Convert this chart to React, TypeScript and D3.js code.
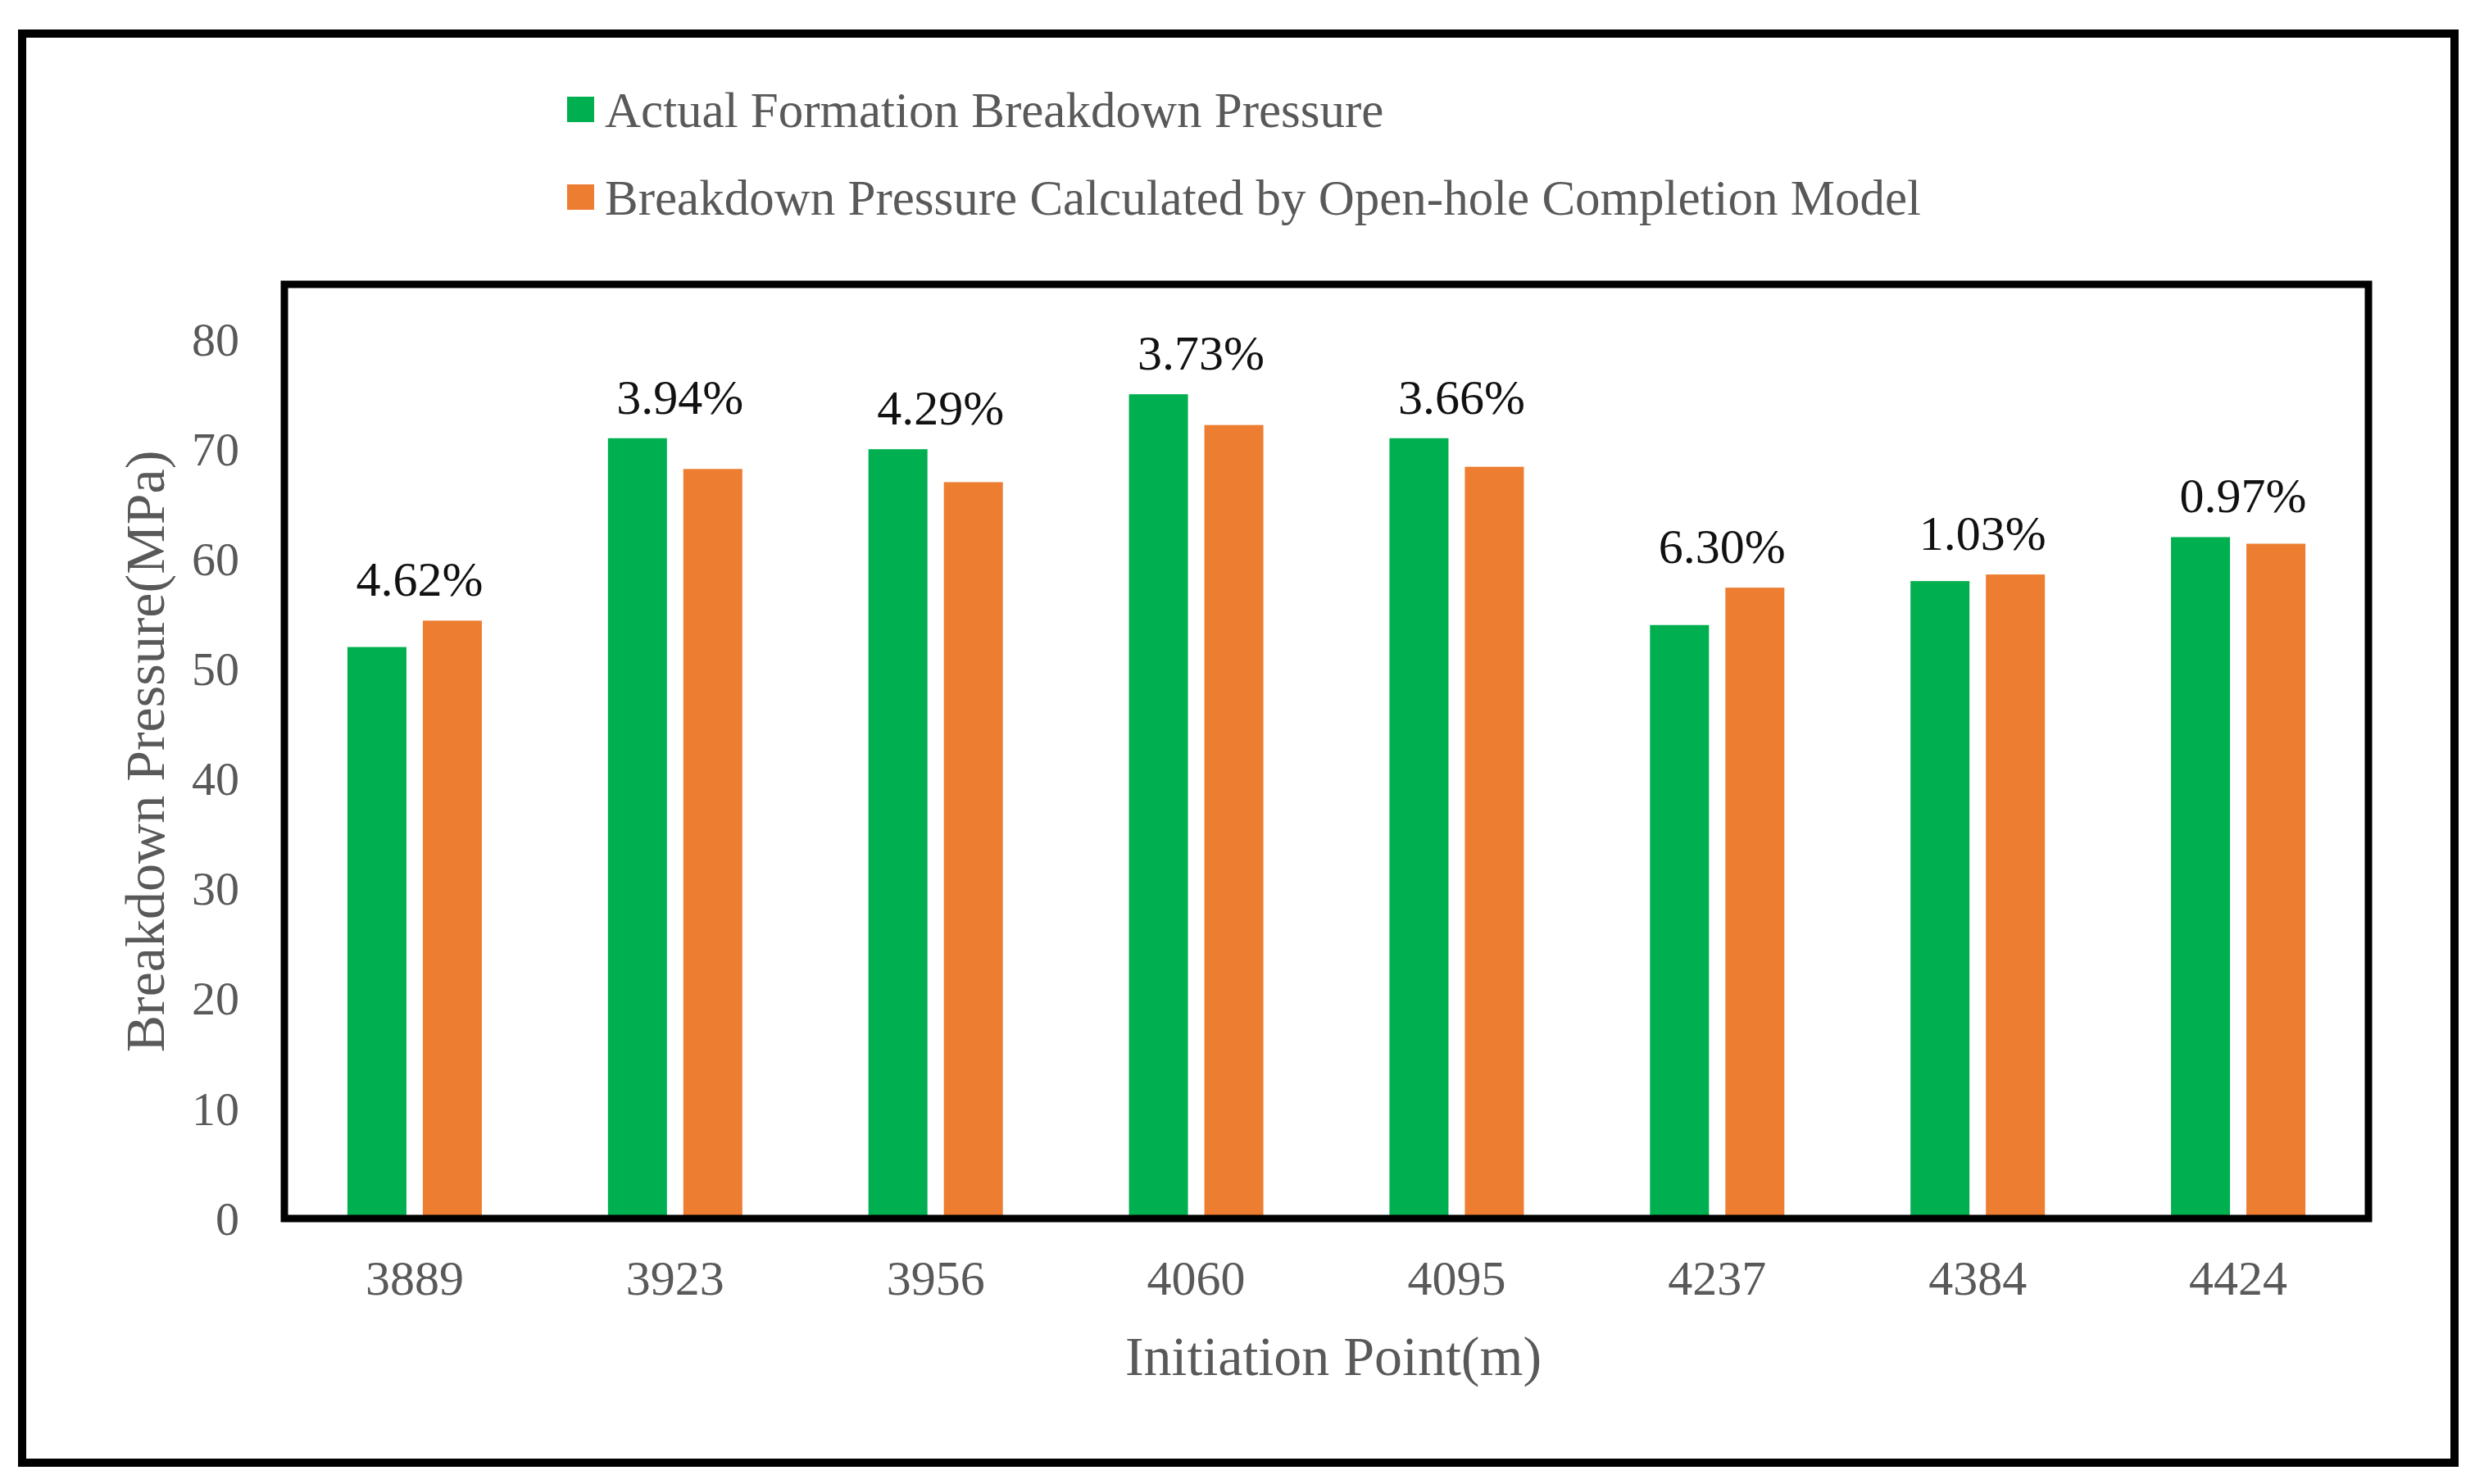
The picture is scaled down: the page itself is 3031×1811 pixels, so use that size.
import React, { useRef, useEffect } from 'react';
import * as d3 from 'd3';

const depths = ['3889', '3923', '3956', '4060', '4095', '4237', '4384', '4424'];
const actualPressure = [52, 71, 70, 75, 71, 54, 58, 62];
const modelPressure = [54.4, 68.2, 67.0, 72.2, 68.4, 57.4, 58.6, 61.4];
const errorLabels = ['4.62%', '3.94%', '4.29%', '3.73%', '3.66%', '6.30%', '1.03%', '0.97%'];
const yTicks = [0, 10, 20, 30, 40, 50, 60, 70, 80];
const seriesNames = [
  'Actual Formation Breakdown Pressure',
  'Breakdown Pressure Calculated by Open-hole Completion Model',
];
const seriesColors = ['#00B050', '#ED7D31'];

const App: React.FC = () => {
  const ref = useRef<SVGSVGElement | null>(null);

  useEffect(() => {
    if (!ref.current) return;
    const svg = d3.select(ref.current);
    const width = 3031;
    const height = 1811;
    const plot = { left: 347, right: 2890, top: 347, bottom: 1487 };
    const font = '"Liberation Serif", "Times New Roman", serif';

    svg.attr('width', width).attr('height', height);
    svg.selectAll('*').remove();

    svg.append('rect').attr('width', width).attr('height', height).attr('fill', '#fff');

    // outer frame
    svg.append('rect')
      .attr('x', 27).attr('y', 41)
      .attr('width', 2995 - 27).attr('height', 1785 - 41)
      .attr('fill', 'none').attr('stroke', '#000').attr('stroke-width', 10);

    const x = d3.scaleBand<string>().domain(depths).range([plot.left, plot.right]);
    const y = d3.scaleLinear().domain([0, 85]).range([plot.bottom, plot.top]);

    const barW = 72;
    const gap = 20;

    const g = svg.append('g');
    depths.forEach((d, i) => {
      const cx = (x(d) as number) + x.bandwidth() / 2;
      [actualPressure[i], modelPressure[i]].forEach((v, s) => {
        const bx = s === 0 ? cx - gap / 2 - barW : cx + gap / 2;
        g.append('rect')
          .attr('x', bx).attr('y', y(v))
          .attr('width', barW).attr('height', y(0) - y(v))
          .attr('fill', seriesColors[s]);
      });
      const top = Math.max(actualPressure[i], modelPressure[i]);
      g.append('text')
        .attr('x', cx + 6).attr('y', y(top) - 30)
        .attr('text-anchor', 'middle')
        .attr('font-family', font).attr('font-size', 60)
        .attr('fill', '#111')
        .text(errorLabels[i]);
    });

    // plot box
    svg.append('rect')
      .attr('x', plot.left).attr('y', plot.top)
      .attr('width', plot.right - plot.left).attr('height', plot.bottom - plot.top)
      .attr('fill', 'none').attr('stroke', '#000').attr('stroke-width', 9);

    // y tick labels
    svg.append('g').selectAll('text').data(yTicks).join('text')
      .attr('x', 292).attr('y', d => y(d))
      .attr('dy', '0.34em')
      .attr('text-anchor', 'end')
      .attr('font-family', font).attr('font-size', 58)
      .attr('fill', '#595959')
      .text(d => d);

    // x tick labels
    svg.append('g').selectAll('text').data(depths).join('text')
      .attr('x', d => (x(d) as number) + x.bandwidth() / 2)
      .attr('y', 1580)
      .attr('text-anchor', 'middle')
      .attr('font-family', font).attr('font-size', 60)
      .attr('fill', '#595959')
      .text(d => d);

    // axis titles
    svg.append('text')
      .attr('x', 1627).attr('y', 1678)
      .attr('text-anchor', 'middle')
      .attr('font-family', font).attr('font-size', 68)
      .attr('fill', '#595959')
      .text('Initiation Point(m)');

    svg.append('text')
      .attr('transform', `translate(200,${(plot.top + plot.bottom) / 2}) rotate(-90)`)
      .attr('text-anchor', 'middle')
      .attr('font-family', font).attr('font-size', 68)
      .attr('fill', '#595959')
      .text('Breakdown Pressure(MPa)');

    // legend
    const legendRows = [155, 262];
    seriesNames.forEach((name, i) => {
      svg.append('rect')
        .attr('x', 692).attr('y', legendRows[i] - 37)
        .attr('width', 33).attr('height', 31)
        .attr('fill', seriesColors[i]);
      svg.append('text')
        .attr('x', 738).attr('y', legendRows[i])
        .attr('font-family', font).attr('font-size', 61)
        .attr('fill', '#595959')
        .text(name);
    });
  }, []);

  return <svg ref={ref} style={{ position: 'absolute', left: 0, top: 0, display: 'block' }}></svg>;
};

export default App;
